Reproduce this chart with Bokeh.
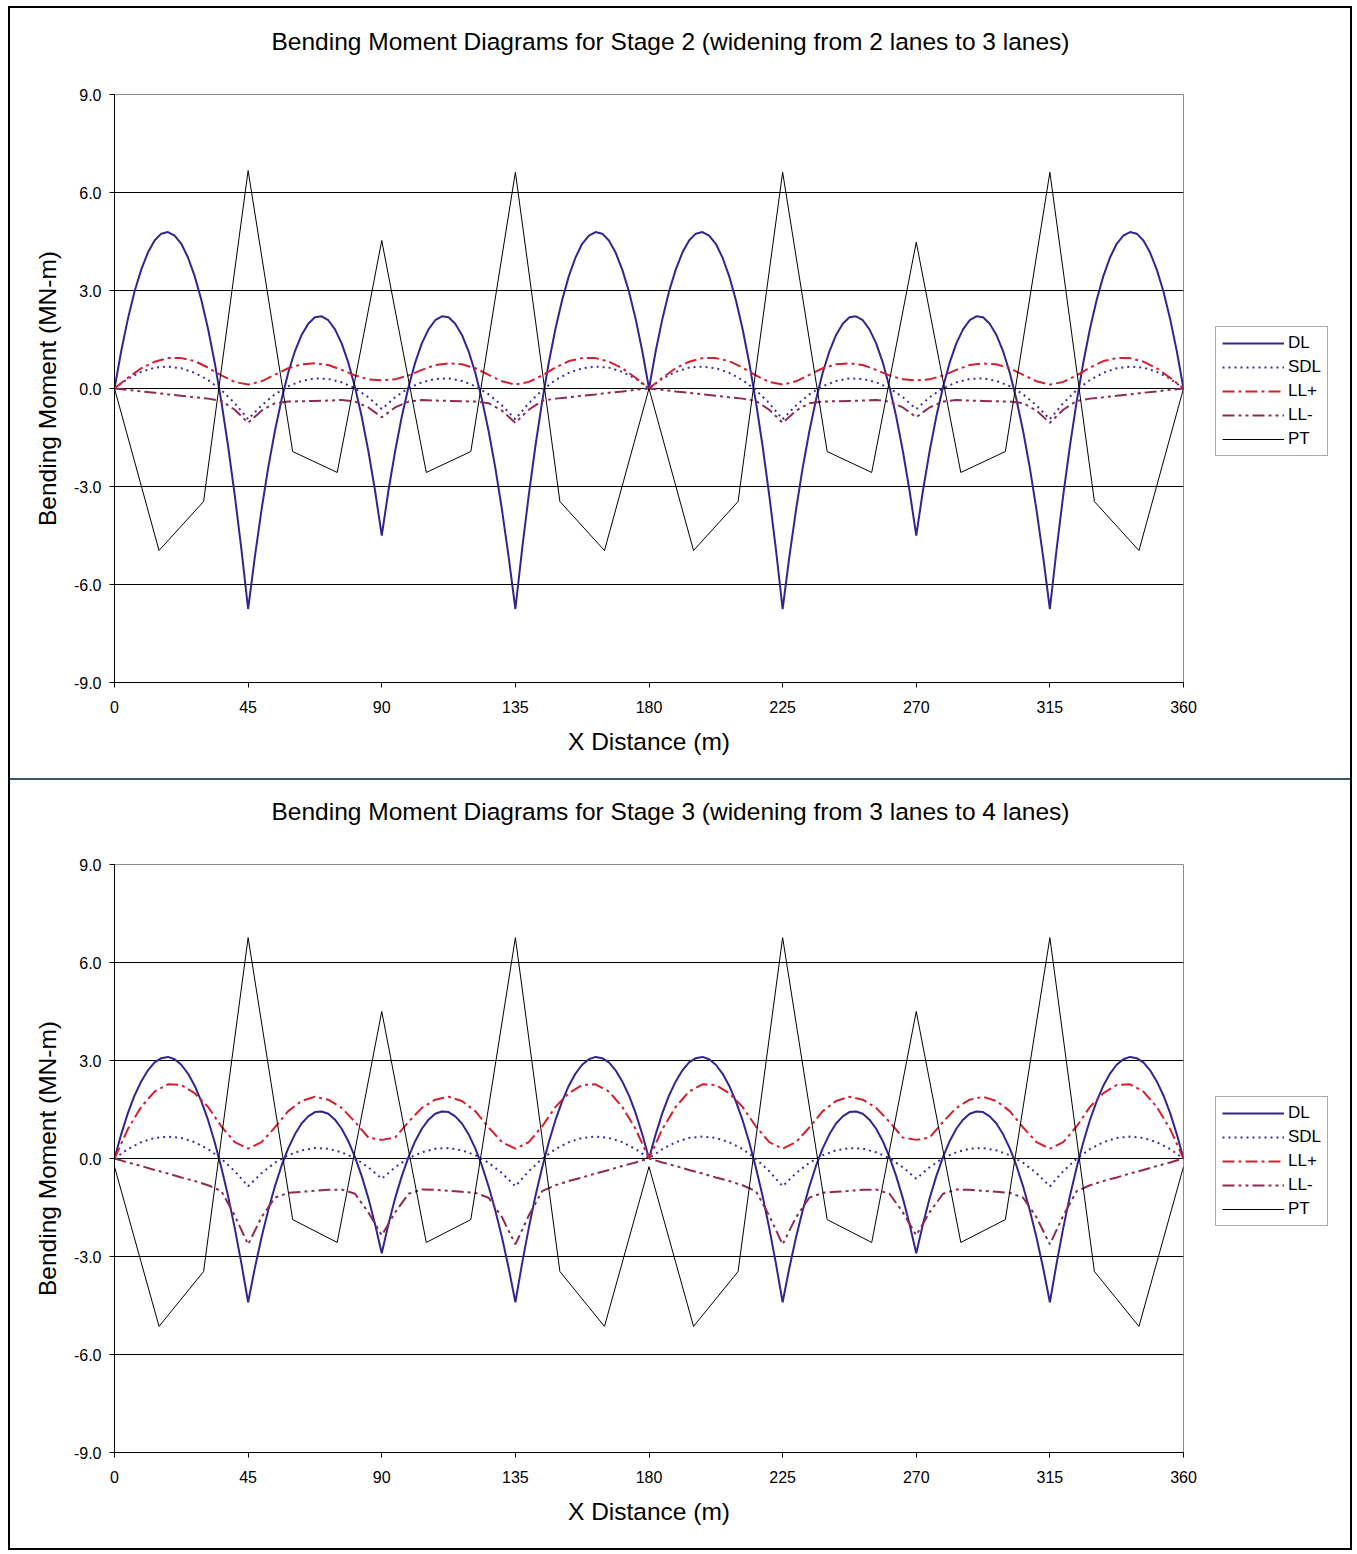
from bokeh.plotting import figure
from bokeh.models import (Legend, LegendItem, FixedTicker, NumeralTickFormatter,
                          Range1d, Div)
from bokeh.layouts import column, row
from bokeh.embed import file_html
from bokeh.resources import INLINE

FONT = "Liberation Sans"

# ---------------- data ----------------
TITLES = ["Bending Moment Diagrams for Stage 2 (widening from 2 lanes to 3 lanes)",
          "Bending Moment Diagrams for Stage 3 (widening from 3 lanes to 4 lanes)"]
X_TICKS = [0, 45, 90, 135, 180, 225, 270, 315, 360]
Y_TICKS = [-9, -6, -3, 0, 3, 6, 9]

# stations every 2.25 m (DL)
X_FINE = [
    0, 2.25, 4.5, 6.75, 9, 11.25, 13.5, 15.75, 18, 20.25, 22.5, 24.75, 27, 29.25, 31.5, 33.75, 36, 38.25, 40.5, 42.75,
    45, 47.25, 49.5, 51.75, 54, 56.25, 58.5, 60.75, 63, 65.25, 67.5, 69.75, 72, 74.25, 76.5, 78.75, 81, 83.25, 85.5, 87.75,
    90, 92.25, 94.5, 96.75, 99, 101.25, 103.5, 105.75, 108, 110.25, 112.5, 114.75, 117, 119.25, 121.5, 123.75, 126, 128.25, 130.5, 132.75,
    135, 137.25, 139.5, 141.75, 144, 146.25, 148.5, 150.75, 153, 155.25, 157.5, 159.75, 162, 164.25, 166.5, 168.75, 171, 173.25, 175.5, 177.75,
    180, 182.25, 184.5, 186.75, 189, 191.25, 193.5, 195.75, 198, 200.25, 202.5, 204.75, 207, 209.25, 211.5, 213.75, 216, 218.25, 220.5, 222.75,
    225, 227.25, 229.5, 231.75, 234, 236.25, 238.5, 240.75, 243, 245.25, 247.5, 249.75, 252, 254.25, 256.5, 258.75, 261, 263.25, 265.5, 267.75,
    270, 272.25, 274.5, 276.75, 279, 281.25, 283.5, 285.75, 288, 290.25, 292.5, 294.75, 297, 299.25, 301.5, 303.75, 306, 308.25, 310.5, 312.75,
    315, 317.25, 319.5, 321.75, 324, 326.25, 328.5, 330.75, 333, 335.25, 337.5, 339.75, 342, 344.25, 346.5, 348.75, 351, 353.25, 355.5, 357.75,
    360]

# stations every 4.5 m (SDL, LL+, LL-)
X_COARSE = [
    0, 4.5, 9, 13.5, 18, 22.5, 27, 31.5, 36, 40.5,
    45, 49.5, 54, 58.5, 63, 67.5, 72, 76.5, 81, 85.5,
    90, 94.5, 99, 103.5, 108, 112.5, 117, 121.5, 126, 130.5,
    135, 139.5, 144, 148.5, 153, 157.5, 162, 166.5, 171, 175.5,
    180, 184.5, 189, 193.5, 198, 202.5, 207, 211.5, 216, 220.5,
    225, 229.5, 234, 238.5, 243, 247.5, 252, 256.5, 261, 265.5,
    270, 274.5, 279, 283.5, 288, 292.5, 297, 301.5, 306, 310.5,
    315, 319.5, 324, 328.5, 333, 337.5, 342, 346.5, 351, 355.5,
    360]

# PT break points every 15 m
X_PT = [0, 15, 30, 45, 60, 75, 90, 105, 120, 135, 150, 165, 180,
        195, 210, 225, 240, 255, 270, 285, 300, 315, 330, 345, 360]

# ---- Stage 2 ----
DL_2 = [
    0, 1.14, 2.13, 2.97, 3.64, 4.16, 4.53, 4.74, 4.79, 4.68, 4.43, 4.01, 3.44, 2.71, 1.83, 0.79, -0.41, -1.76, -3.27, -4.93,
    -6.75, -5.16, -3.72, -2.43, -1.31, -0.34, 0.48, 1.14, 1.64, 1.98, 2.18, 2.21, 2.09, 1.81, 1.38, 0.79, 0.04, -0.86, -1.92, -3.13,
    -4.50, -3.13, -1.92, -0.86, 0.04, 0.79, 1.38, 1.81, 2.09, 2.21, 2.18, 1.98, 1.64, 1.14, 0.48, -0.34, -1.31, -2.43, -3.72, -5.16,
    -6.75, -4.93, -3.27, -1.76, -0.41, 0.79, 1.83, 2.71, 3.44, 4.01, 4.43, 4.68, 4.79, 4.74, 4.53, 4.16, 3.64, 2.97, 2.13, 1.14,
    0, 1.14, 2.13, 2.97, 3.64, 4.16, 4.53, 4.74, 4.79, 4.68, 4.43, 4.01, 3.44, 2.71, 1.83, 0.79, -0.41, -1.76, -3.27, -4.93,
    -6.75, -5.16, -3.72, -2.43, -1.31, -0.34, 0.48, 1.14, 1.64, 1.98, 2.18, 2.21, 2.09, 1.81, 1.38, 0.79, 0.04, -0.86, -1.92, -3.13,
    -4.50, -3.13, -1.92, -0.86, 0.04, 0.79, 1.38, 1.81, 2.09, 2.21, 2.18, 1.98, 1.64, 1.14, 0.48, -0.34, -1.31, -2.43, -3.72, -5.16,
    -6.75, -4.93, -3.27, -1.76, -0.41, 0.79, 1.83, 2.71, 3.44, 4.01, 4.43, 4.68, 4.79, 4.74, 4.53, 4.16, 3.64, 2.97, 2.13, 1.14,
    0]
SDL_2 = [
    0, 0.30, 0.51, 0.64, 0.67, 0.62, 0.48, 0.26, -0.05, -0.45,
    -0.94, -0.52, -0.18, 0.07, 0.23, 0.31, 0.29, 0.19, 0.01, -0.27,
    -0.63, -0.27, 0.01, 0.19, 0.29, 0.31, 0.23, 0.07, -0.18, -0.52,
    -0.94, -0.45, -0.05, 0.26, 0.48, 0.62, 0.67, 0.64, 0.51, 0.30,
    0, 0.30, 0.51, 0.64, 0.67, 0.62, 0.48, 0.26, -0.05, -0.45,
    -0.94, -0.52, -0.18, 0.07, 0.23, 0.31, 0.29, 0.19, 0.01, -0.27,
    -0.63, -0.27, 0.01, 0.19, 0.29, 0.31, 0.23, 0.07, -0.18, -0.52,
    -0.94, -0.45, -0.05, 0.26, 0.48, 0.62, 0.67, 0.64, 0.51, 0.30,
    0]
LLP_2 = [
    0, 0.33, 0.62, 0.82, 0.93, 0.93, 0.84, 0.64, 0.40, 0.20,
    0.12, 0.22, 0.42, 0.62, 0.74, 0.77, 0.72, 0.57, 0.40, 0.28,
    0.25, 0.28, 0.40, 0.57, 0.72, 0.77, 0.74, 0.62, 0.42, 0.22,
    0.12, 0.20, 0.40, 0.64, 0.84, 0.93, 0.93, 0.82, 0.62, 0.33,
    0, 0.33, 0.62, 0.82, 0.93, 0.93, 0.84, 0.64, 0.40, 0.20,
    0.12, 0.22, 0.42, 0.62, 0.74, 0.77, 0.72, 0.57, 0.40, 0.28,
    0.25, 0.28, 0.40, 0.57, 0.72, 0.77, 0.74, 0.62, 0.42, 0.22,
    0.12, 0.20, 0.40, 0.64, 0.84, 0.93, 0.93, 0.82, 0.62, 0.33,
    0]
LLM_2 = [
    0, -0.04, -0.09, -0.13, -0.18, -0.22, -0.27, -0.31, -0.38, -0.65,
    -1.05, -0.68, -0.45, -0.40, -0.39, -0.38, -0.37, -0.35, -0.40, -0.58,
    -0.88, -0.58, -0.40, -0.35, -0.37, -0.38, -0.39, -0.40, -0.45, -0.68,
    -1.05, -0.65, -0.38, -0.31, -0.27, -0.22, -0.18, -0.13, -0.09, -0.04,
    0, -0.04, -0.09, -0.13, -0.18, -0.22, -0.27, -0.31, -0.38, -0.65,
    -1.05, -0.68, -0.45, -0.40, -0.39, -0.38, -0.37, -0.35, -0.40, -0.58,
    -0.88, -0.58, -0.40, -0.35, -0.37, -0.38, -0.39, -0.40, -0.45, -0.68,
    -1.05, -0.65, -0.38, -0.31, -0.27, -0.22, -0.18, -0.13, -0.09, -0.04,
    0]
PT_2 = [0, -4.96, -3.46, 6.67, -1.93, -2.57, 4.53, -2.57, -1.93, 6.62, -3.46, -4.96, 0,
        -4.96, -3.46, 6.62, -1.93, -2.57, 4.48, -2.57, -1.93, 6.62, -3.46, -4.96, 0]

# ---- Stage 3 ----
DL_3 = [
    0, 0.74, 1.39, 1.93, 2.36, 2.70, 2.94, 3.07, 3.11, 3.04, 2.87, 2.60, 2.23, 1.75, 1.18, 0.50, -0.28, -1.15, -2.13, -3.22,
    -4.40, -3.36, -2.42, -1.59, -0.86, -0.22, 0.31, 0.74, 1.07, 1.29, 1.42, 1.44, 1.37, 1.19, 0.91, 0.53, 0.04, -0.54, -1.22, -2.01,
    -2.90, -2.01, -1.22, -0.54, 0.04, 0.53, 0.91, 1.19, 1.37, 1.44, 1.42, 1.29, 1.07, 0.74, 0.31, -0.22, -0.86, -1.59, -2.42, -3.36,
    -4.40, -3.22, -2.13, -1.15, -0.28, 0.50, 1.18, 1.75, 2.23, 2.60, 2.87, 3.04, 3.11, 3.07, 2.94, 2.70, 2.36, 1.93, 1.39, 0.74,
    0, 0.74, 1.39, 1.93, 2.36, 2.70, 2.94, 3.07, 3.11, 3.04, 2.87, 2.60, 2.23, 1.75, 1.18, 0.50, -0.28, -1.15, -2.13, -3.22,
    -4.40, -3.36, -2.42, -1.59, -0.86, -0.22, 0.31, 0.74, 1.07, 1.29, 1.42, 1.44, 1.37, 1.19, 0.91, 0.53, 0.04, -0.54, -1.22, -2.01,
    -2.90, -2.01, -1.22, -0.54, 0.04, 0.53, 0.91, 1.19, 1.37, 1.44, 1.42, 1.29, 1.07, 0.74, 0.31, -0.22, -0.86, -1.59, -2.42, -3.36,
    -4.40, -3.22, -2.13, -1.15, -0.28, 0.50, 1.18, 1.75, 2.23, 2.60, 2.87, 3.04, 3.11, 3.07, 2.94, 2.70, 2.36, 1.93, 1.39, 0.74,
    0]
SDL_3 = [
    0, 0.29, 0.50, 0.63, 0.67, 0.63, 0.50, 0.29, -0.01, -0.39,
    -0.85, -0.45, -0.13, 0.10, 0.25, 0.32, 0.30, 0.19, 0.01, -0.27,
    -0.62, -0.27, 0.01, 0.19, 0.30, 0.32, 0.25, 0.10, -0.13, -0.45,
    -0.85, -0.39, -0.01, 0.29, 0.50, 0.63, 0.67, 0.63, 0.50, 0.29,
    0, 0.29, 0.50, 0.63, 0.67, 0.63, 0.50, 0.29, -0.01, -0.39,
    -0.85, -0.45, -0.13, 0.10, 0.25, 0.32, 0.30, 0.19, 0.01, -0.27,
    -0.62, -0.27, 0.01, 0.19, 0.30, 0.32, 0.25, 0.10, -0.13, -0.45,
    -0.85, -0.39, -0.01, 0.29, 0.50, 0.63, 0.67, 0.63, 0.50, 0.29,
    0]
LLP_3 = [
    0, 0.90, 1.58, 2.05, 2.27, 2.25, 2.00, 1.58, 0.98, 0.50,
    0.30, 0.50, 0.95, 1.45, 1.76, 1.89, 1.80, 1.55, 1.12, 0.64,
    0.57, 0.64, 1.12, 1.55, 1.80, 1.89, 1.76, 1.45, 0.95, 0.50,
    0.30, 0.50, 0.98, 1.58, 2.00, 2.25, 2.27, 2.05, 1.58, 0.90,
    0, 0.90, 1.58, 2.05, 2.27, 2.25, 2.00, 1.58, 0.98, 0.50,
    0.30, 0.50, 0.95, 1.45, 1.76, 1.89, 1.80, 1.55, 1.12, 0.64,
    0.57, 0.64, 1.12, 1.55, 1.80, 1.89, 1.76, 1.45, 0.95, 0.50,
    0.30, 0.50, 0.98, 1.58, 2.00, 2.25, 2.27, 2.05, 1.58, 0.90,
    0]
LLM_3 = [
    0, -0.12, -0.23, -0.35, -0.46, -0.58, -0.69, -0.82, -1.00, -1.75,
    -2.63, -1.80, -1.20, -1.05, -1.02, -0.99, -0.96, -0.95, -1.08, -1.65,
    -2.35, -1.65, -1.08, -0.95, -0.96, -0.99, -1.02, -1.05, -1.20, -1.80,
    -2.63, -1.75, -1.00, -0.82, -0.69, -0.58, -0.46, -0.35, -0.23, -0.12,
    0, -0.12, -0.23, -0.35, -0.46, -0.58, -0.69, -0.82, -1.00, -1.75,
    -2.63, -1.80, -1.20, -1.05, -1.02, -0.99, -0.96, -0.95, -1.08, -1.65,
    -2.35, -1.65, -1.08, -0.95, -0.96, -0.99, -1.02, -1.05, -1.20, -1.80,
    -2.63, -1.75, -1.00, -0.82, -0.69, -0.58, -0.46, -0.35, -0.23, -0.12,
    0]
PT_3 = [-0.25, -5.14, -3.46, 6.76, -1.87, -2.57, 4.50, -2.57, -1.87, 6.76, -3.46, -5.14, -0.25,
        -5.14, -3.46, 6.76, -1.87, -2.57, 4.50, -2.57, -1.87, 6.76, -3.46, -5.14, -0.25]

SERIES_NAMES = ["DL", "SDL", "LL+", "LL-", "PT"]

# ---------------- styling ----------------
STYLE = {
    "DL": dict(line_color="#33258f", line_width=2),
    "SDL": dict(line_color="#3a2ca8", line_width=2, line_dash="2 4"),
    "LL+": dict(line_color="#d2202e", line_width=2, line_dash="12 4 3 4"),
    "LL-": dict(line_color="#8e2a55", line_width=2, line_dash="12 4 3 4 3 4"),
    "PT": dict(line_color="black", line_width=1),
}

TOTAL_W = 1340
LEFT, RIGHT = 104, 20
MAIN_W = LEFT + 1069 + RIGHT
LEG_W = TOTAL_W - MAIN_W


def style_title(t):
    t.align = "left"
    t.offset = 157
    t.text_font = FONT
    t.text_font_size = "24.5px"
    t.text_font_style = "normal"
    t.text_color = "black"
    t.vertical_align = "bottom"
    try:
        t.padding = dict(left=0, right=0, top=0, bottom=40)
        t.standoff = 0
    except Exception:
        t.standoff = 58


def make_panel(title, series, top, bottom):
    dl, sdl, llp, llm, pt = series
    h = top + 588 + bottom
    p = figure(width=MAIN_W, height=h, output_backend="svg", toolbar_location=None,
               x_range=Range1d(0, 360), y_range=Range1d(-9, 9),
               min_border_left=LEFT, min_border_right=RIGHT,
               min_border_top=top, min_border_bottom=bottom,
               background_fill_color="white", border_fill_color="white",
               title=title)
    style_title(p.title)

    p.outline_line_color = "#8c8c8c"
    p.outline_line_width = 1

    p.xgrid.visible = False
    p.ygrid.ticker = FixedTicker(ticks=[-6, -3, 0, 3, 6])
    p.ygrid.grid_line_color = "black"
    p.ygrid.grid_line_width = 1

    p.xaxis.ticker = FixedTicker(ticks=X_TICKS)
    p.yaxis.ticker = FixedTicker(ticks=Y_TICKS)
    p.yaxis.formatter = NumeralTickFormatter(format="0.0")
    for ax in (p.xaxis[0], p.yaxis[0]):
        ax.axis_line_color = "black"
        ax.axis_line_width = 1
        ax.major_tick_line_color = "black"
        ax.major_tick_out = 5
        ax.major_tick_in = 0
        ax.minor_tick_out = 0
        ax.minor_tick_in = 0
        ax.major_label_text_font = FONT
        ax.major_label_text_font_size = "16px"
        ax.major_label_text_color = "black"
        ax.axis_label_text_font = FONT
        ax.axis_label_text_font_size = "24.5px"
        ax.axis_label_text_font_style = "normal"
        ax.axis_label_text_color = "black"
    p.xaxis.axis_label = "X Distance (m)"
    p.yaxis.axis_label = "Bending Moment (MN-m)"
    p.xaxis.major_label_standoff = 13
    p.xaxis.axis_label_standoff = 12
    p.yaxis.major_label_standoff = 8
    p.yaxis.axis_label_standoff = 10

    xs = [X_FINE, X_COARSE, X_COARSE, X_COARSE, X_PT]
    for n, x, y in zip(SERIES_NAMES, xs, series):
        p.line(x, y, **STYLE[n])

    # legend lives in a narrow companion figure to the right of the plot;
    # its renderers carry the same data but their range shows none of it
    q = figure(width=LEG_W, height=h, output_backend="svg", toolbar_location=None,
               x_range=Range1d(-20, -10), y_range=Range1d(-9, 9),
               x_axis_type=None, y_axis_type=None,
               min_border_left=0, min_border_right=0, min_border_top=0, min_border_bottom=0,
               background_fill_color="white", border_fill_color="white")
    q.outline_line_color = None
    q.xgrid.visible = False
    q.ygrid.visible = False
    items = []
    for n, x, y in zip(SERIES_NAMES, xs, series):
        rr = q.line(x, y, **STYLE[n])
        items.append(LegendItem(label=n, renderers=[rr]))
    legend = Legend(items=items, location=(1215 - 10 - MAIN_W, 226), orientation="vertical",
                    glyph_width=62, glyph_height=20, label_height=20, spacing=4,
                    padding=6, margin=0, label_standoff=4,
                    label_text_font=FONT, label_text_font_size="17px",
                    label_text_color="black",
                    border_line_color="#555555", border_line_width=1,
                    background_fill_color="white", background_fill_alpha=1)
    q.add_layout(legend, "center")
    return row(p, q, spacing=0)


p1 = make_panel(TITLES[0], [DL_2, SDL_2, LLP_2, LLM_2, PT_2], top=86, bottom=96)
p2 = make_panel(TITLES[1], [DL_3, SDL_3, LLP_3, LLM_3, PT_3], top=84, bottom=96)

sep = Div(text="", width=TOTAL_W, height=2,
          styles={"background-color": "#3c5866", "margin": "0", "padding": "0"})

layout = column(p1, sep, p2, spacing=0,
                styles={"border": "2px solid black", "background-color": "white",
                        "margin": "6px 0 0 8px"})

open("out.html", "w").write(file_html(layout, INLINE))
